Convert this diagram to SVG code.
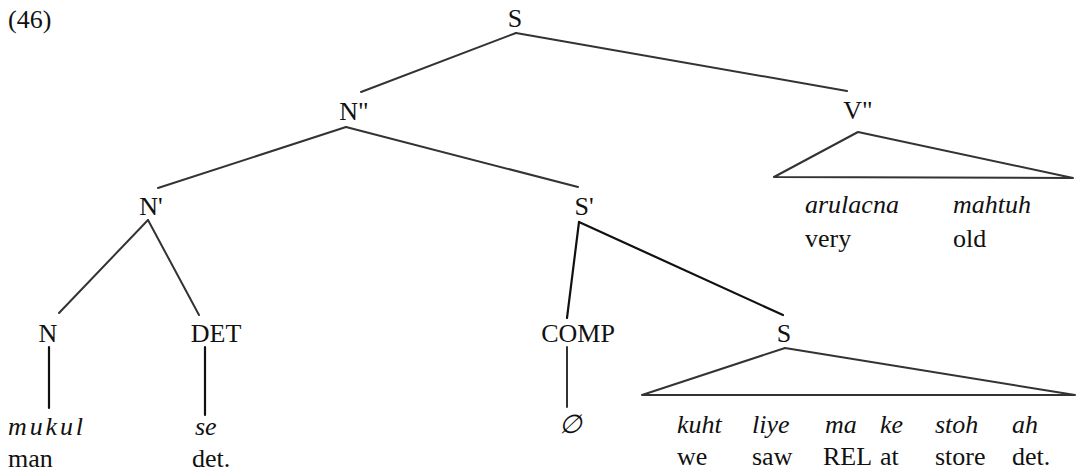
<svg xmlns="http://www.w3.org/2000/svg" width="1081" height="472" viewBox="0 0 1081 472" font-family="'Liberation Serif', 'Times New Roman', serif">
<style>
text{font-family:'Liberation Serif','Times New Roman',serif;font-size:26px;fill:#111}
.lbl{text-anchor:middle}
.it{font-style:italic}
.e{stroke:#333;stroke-width:2;fill:none;stroke-linecap:round;stroke-linejoin:round}
.k{stroke:#111;stroke-width:2.2}
</style>
<rect width="1081" height="472" fill="#fff"/>
<text x="8" y="28">(46)</text>
<g id="connectors">
<line class="e" x1="516" y1="33" x2="361" y2="92"/>
<line class="e" x1="516" y1="33" x2="847" y2="91"/>
<line class="e" x1="346" y1="127" x2="158" y2="188"/>
<line class="e" x1="346" y1="127" x2="578" y2="187"/>
<line class="e" x1="148" y1="220" x2="59" y2="313"/>
<line class="e" x1="148" y1="220" x2="199" y2="315"/>
<line class="e k" x1="579" y1="222" x2="567" y2="318"/>
<line class="e k" x1="579" y1="222" x2="783" y2="315"/>
<line class="e k" x1="49" y1="347" x2="49" y2="408"/>
<line class="e k" x1="205" y1="347" x2="205" y2="415"/>
<line class="e" x1="567" y1="347" x2="567" y2="407"/>
<polygon class="e" points="858,132 774,177 1073,178"/>
<polygon class="e" points="785,348 642,395 1075,395"/>
</g>
<g id="n-S"><text class="lbl" x="515" y="27">S</text></g>
<g id="n-N2"><text class="lbl" x="354" y="120">N"</text></g>
<g id="n-V2"><text class="lbl" x="858" y="119">V"</text></g>
<g id="n-N1"><text class="lbl" x="151" y="215">N'</text></g>
<g id="n-S1"><text class="lbl" x="584" y="215">S'</text></g>
<g id="n-N"><text class="lbl" x="48" y="342">N</text></g>
<g id="n-DET"><text class="lbl" x="216" y="342">DET</text></g>
<g id="n-COMP"><text class="lbl" x="578" y="342">COMP</text></g>
<g id="n-S2"><text class="lbl" x="784" y="342">S</text></g>
<g id="leaf-mukul"><text class="it" x="8" y="435" textLength="75">mukul</text><text x="8" y="467">man</text></g>
<g id="leaf-se"><text class="it" x="195" y="435">se</text><text x="192" y="467">det.</text></g>
<g id="leaf-empty"><text class="it" x="559" y="433">∅</text></g>
<g id="leaf-vp">
<text class="it" x="805" y="213">arulacna</text><text x="805" y="247">very</text>
<text class="it" x="953" y="213">mahtuh</text><text x="953" y="247">old</text>
</g>
<g id="leaf-s">
<text class="it" x="677" y="433">kuht</text><text x="677" y="465">we</text>
<text class="it" x="752" y="433">liye</text><text x="752" y="465">saw</text>
<text class="it" x="825" y="433">ma</text><text x="823" y="465">REL</text>
<text class="it" x="880" y="433">ke</text><text x="880" y="465">at</text>
<text class="it" x="935" y="433">stoh</text><text x="935" y="465">store</text>
<text class="it" x="1012" y="433">ah</text><text x="1012" y="465">det.</text>
</g>
</svg>
